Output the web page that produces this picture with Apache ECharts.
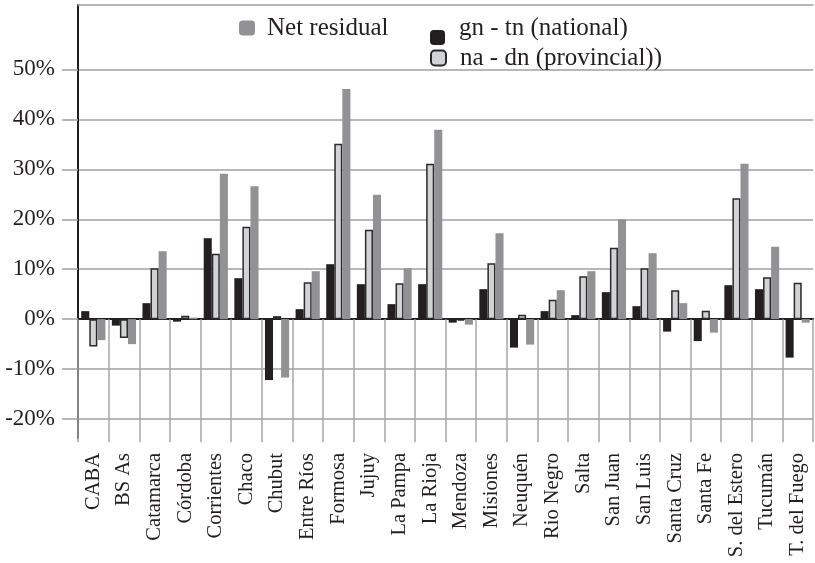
<!DOCTYPE html>
<html>
<head>
<meta charset="utf-8">
<script src="https://cdn.jsdelivr.net/npm/echarts@6/dist/echarts.min.js"></script>
<style>html,body{margin:0;padding:0;background:#fff}#c{width:815px;height:563px}</style>
</head>
<body>
<div id="c"></div>
<script>
const categories = ['CABA','BS As','Catamarca','Córdoba','Corrientes','Chaco','Chubut','Entre Ríos','Formosa','Jujuy','La Pampa','La Rioja','Mendoza','Misiones','Neuquén','Rio Negro','Salta','San Juan','San Luis','Santa Cruz','Santa Fe','S. del Estero','Tucumán','T. del Fuego'];
const national = [1.6,-1.3,3.2,-0.5,16.2,8.2,-12.2,2.0,11.0,7.0,3.0,7.0,-0.7,6.0,-5.7,1.6,0.8,5.4,2.6,-2.5,-4.4,6.8,6.0,-7.7];
const provincial = [-5.5,-3.8,10.2,0.7,13.1,18.5,0.6,7.4,35.1,17.9,7.2,31.1,-0.3,11.2,0.9,3.9,8.6,14.3,10.2,5.8,1.7,24.2,8.4,7.3];
const netResidual = [-4.2,-5.0,13.6,0.3,29.1,26.6,-11.7,9.6,46.1,24.9,10.2,37.9,-1.1,17.2,-5.1,5.8,9.6,20.0,13.2,3.2,-2.7,31.1,14.5,-0.7];
const yTicks = [-20,-10,0,10,20,30,40,50];
const yMin = -23.8, yMax = 62.9;

const FONT = "'Liberation Serif','Times New Roman',serif";
const chart = echarts.init(document.getElementById('c'), null, {renderer:'canvas'});
const legendText = {fontFamily: FONT, fontSize: 25, color: '#231f20'};
chart.setOption({
  animation: false,
  textStyle: {fontFamily: FONT},
  legend: [
    {data:['Net residual'], left:239, top:15.5, padding:0, itemWidth:16, itemHeight:15, selectedMode:false,
     textStyle:Object.assign({padding:[0,0,0,7]}, legendText)},
    // icon only for the national series (sits lower than its label)
    {data:['gn - tn (national)'], left:430, top:25, padding:0, itemWidth:15, itemHeight:15, selectedMode:false,
     formatter: () => ' ', textStyle:legendText},
    // label only for the national series
    {data:['gn - tn (national)'], left:430, top:15.5, padding:0, itemWidth:15, itemHeight:15, selectedMode:false,
     itemStyle:{opacity:0}, textStyle:Object.assign({padding:[0,0,0,9]}, legendText)},
    {data:['na - dn (provincial))'], left:430, top:45.5, padding:0, itemWidth:15, itemHeight:15, selectedMode:false,
     textStyle:Object.assign({padding:[0,0,0,9]}, legendText)}
  ],
  grid: {left:78, right:2, top:5, bottom:125, containLabel:false, outerBoundsMode:'none'},
  xAxis: [
    {type:'category', data:categories, position:'bottom',
     axisLine:{onZero:true, lineStyle:{color:'#231f20', width:2}},
     axisTick:{show:true, inside:false, length:123, lineStyle:{color:'#a6a6a6', width:1.5}},
     axisLabel:{rotate:90, margin:15, fontFamily:FONT, fontSize:20.5, color:'#231f20', interval:0},
     splitLine:{show:false}},
    {type:'category', data:categories, position:'top',
     axisLine:{onZero:false, lineStyle:{color:'#a0a0a0', width:1.5}},
     axisTick:{show:false}, axisLabel:{show:false}}
  ],
  yAxis: {
    type:'value', min:yMin, max:yMax,
    axisLine:{show:true, lineStyle:{color:'#231f20', width:2}},
    axisTick:{show:true, customValues:yTicks, length:16, lineStyle:{color:'#a0a0a0', width:1.5}},
    axisLabel:{customValues:yTicks, margin:23, fontFamily:FONT, fontSize:23, color:'#231f20',
      formatter: v => v + '%'},
    splitLine:{show:true, lineStyle:{color:'#a0a0a0', width:1.5}}
  },
  series: [
    {name:'gn - tn (national)', type:'bar', data:national, barGap:'0%', barCategoryGap:'21%',
     itemStyle:{color:'#231f20'}},
    {name:'na - dn (provincial))', type:'bar', data:provincial, barGap:'0%', barCategoryGap:'21%',
     itemStyle:{color:'#d2d3d4', borderColor:'#2a2a2a', borderWidth:1.5}},
    {name:'Net residual', type:'bar', data:netResidual, barGap:'0%', barCategoryGap:'21%',
     itemStyle:{color:'#929295'}}
  ]
});
</script>
</body>
</html>
